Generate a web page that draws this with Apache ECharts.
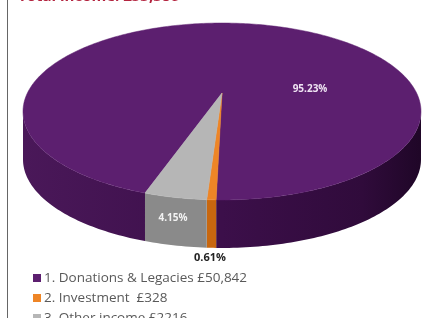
<!DOCTYPE html>
<html>
<head>
<meta charset="utf-8">
<script src="https://cdn.jsdelivr.net/npm/echarts@6/dist/echarts.min.js"></script>
<style>
    html, body { margin: 0; padding: 0; background: #fff; }
    #chart { width: 424px; height: 318px; }
</style>
</head>
<body>
<div id="chart"></div>
<script>
// --- data ---
const categories = ['1. Donations & Legacies £50,842', '2. Investment  £328', '3. Other income £2216'];
const percents = [95.23, 0.61, 4.15];
const pctLabels = ['95.23%', '0.61%', '4.15%'];
const topColors = ['#5c1f6f', '#ee8526', '#b6b6b6'];
const sideColors = ['#3c0f4a', '#c8670f', '#8a8a8a'];

// --- 3D pie geometry (perspective disc) ---
const cx = 222, cy = 93;          // apex of the wedges
const a = 194.6, b = 84.6, k = 0.209, depth = 48;
const startAngle = 108.5;         // degrees, clockwise from east (screen coords)
const total = percents.reduce((s, v) => s + v, 0);
const sideFrom = Math.asin(k) * 180 / Math.PI;
const sideTo = 180 - sideFrom;

function sliceAngles(i) {
    let cum = 0;
    for (let j = 0; j < i; j++) cum += percents[j];
    const s = startAngle + cum / total * 360;
    return [s, s + percents[i] / total * 360];
}

function pt(deg, dy) {
    const r = deg * Math.PI / 180;
    const u = Math.cos(r), v = Math.sin(r);
    const w = 1 - k * v;
    return [cx + a * u / w, cy + b * v / w + (dy || 0)];
}

function arcPoints(s, e, dy) {
    const pts = [];
    const n = Math.max(2, Math.ceil(Math.abs(e - s)));
    for (let j = 0; j <= n; j++) pts.push(pt(s + (e - s) * j / n, dy));
    return pts;
}

function sideFill(i) {
    if (i !== 0) return sideColors[i];
    return new echarts.graphic.LinearGradient(22, 0, 422, 0, [
        { offset: 0, color: '#4a1859' },
        { offset: 0.5, color: '#3c0f4a' },
        { offset: 0.85, color: '#300b3b' },
        { offset: 1, color: '#1f0627' }
    ], true);
}

function renderSide(params) {
    const i = params.dataIndex;
    const [s, e] = sliceAngles(i);
    const children = [];
    for (let m = -1; m <= 2; m++) {
        const lo = Math.max(s, m * 360 + sideFrom);
        const hi = Math.min(e, m * 360 + sideTo);
        if (hi <= lo) continue;
        const pts = arcPoints(lo, hi, 0).concat(arcPoints(hi, lo, depth));
        children.push({
            type: 'polygon',
            shape: { points: pts },
            style: { fill: sideFill(i), stroke: null }
        });
    }
    return { type: 'group', children: children };
}

function renderTop(params) {
    const i = params.dataIndex;
    const [s, e] = sliceAngles(i);
    const pts = [[cx, cy]].concat(arcPoints(s, e, 0));
    return {
        type: 'polygon',
        shape: { points: pts },
        style: { fill: topColors[i], stroke: topColors[i], lineWidth: 0.5 }
    };
}

const chart = echarts.init(document.getElementById('chart'));

const option = {
    animation: false,
    legend: {
        orient: 'vertical',
        left: 28,
        top: 266,
        height: 120,
        icon: 'rect',
        itemWidth: 8,
        itemHeight: 8,
        itemGap: 6,
        data: categories,
        textStyle: { fontFamily: 'Open Sans', fontSize: 13.5, color: '#595959', padding: [0, 0, 0, -2] }
    },
    graphic: [
        { type: 'line', z: 100, shape: { x1: 7.5, y1: 0, x2: 7.5, y2: 318 }, style: { stroke: '#666', lineWidth: 1 } },
        { type: 'text', z: 100, left: 18, top: -11, style: { text: 'Total income: £53,386', font: 'bold 15px "Open Sans"', fill: '#b3243f' } },
        { type: 'text', z: 100, x: 310, y: 89, style: { text: pctLabels[0], font: 'bold 10px "Open Sans"', fill: '#efe4f3', align: 'center', verticalAlign: 'middle' } },
        { type: 'text', z: 100, x: 173, y: 218, style: { text: pctLabels[2], font: 'bold 10px "Open Sans"', fill: '#f2f2f2', align: 'center', verticalAlign: 'middle' } },
        { type: 'text', z: 100, x: 210, y: 258, style: { text: pctLabels[1], font: 'bold 11px "Open Sans"', fill: '#222', align: 'center', verticalAlign: 'middle' } }
    ],
    series: [
        {
            type: 'custom',
            coordinateSystem: 'none',
            renderItem: renderSide,
            data: percents,
            silent: true
        },
        {
            type: 'custom',
            coordinateSystem: 'none',
            renderItem: renderTop,
            data: percents,
            silent: true
        },
        {
            // only feeds the legend
            type: 'pie',
            radius: [0, 0],
            center: [-50, -50],
            silent: true,
            label: { show: false },
            data: categories.map((name, i) => ({
                name: name,
                value: percents[i],
                itemStyle: { color: topColors[i] }
            }))
        }
    ]
};

chart.setOption(option);
</script>
</body>
</html>
